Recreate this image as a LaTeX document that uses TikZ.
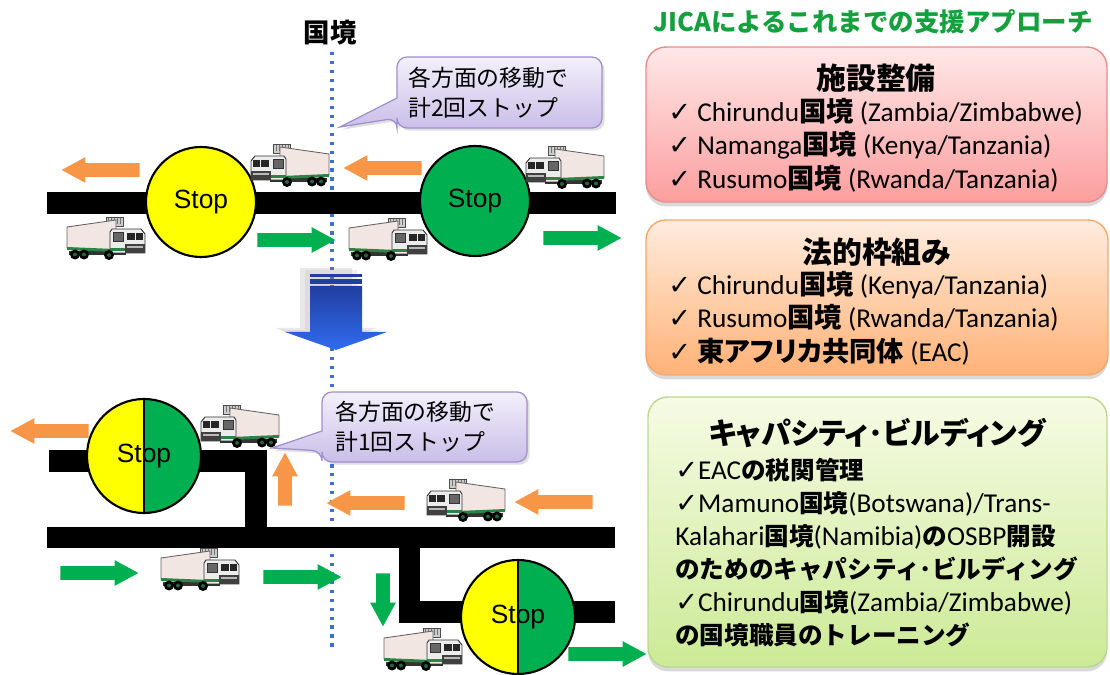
\documentclass[tikz,border=0pt]{standalone}
\usepackage{fontspec}
\setmainfont{Carlito}
\newfontfamily\cjk{Noto Sans CJK JP}
\newfontfamily\cjkp[RawFeature=+palt]{Noto Sans CJK JP}
\newfontfamily\symfont{DejaVu Sans}
\newfontfamily\arialfont{Liberation Sans}
\usetikzlibrary{shapes.arrows,shadows}

\definecolor{flowor}{RGB}{247,150,70}
\definecolor{flowgr}{RGB}{0,176,80}
\definecolor{stopyel}{RGB}{255,255,0}
\definecolor{stopgrn}{RGB}{0,176,80}
\definecolor{borderdots}{RGB}{60,115,200}
\definecolor{cargo}{RGB}{242,230,226}
\definecolor{cabwhite}{RGB}{236,236,236}
\definecolor{stripe}{RGB}{45,130,70}
\definecolor{calltop}{RGB}{243,240,251}
\definecolor{callbot}{RGB}{202,190,232}
\definecolor{calledge}{RGB}{160,142,205}
\definecolor{redtop}{RGB}{255,232,232}
\definecolor{redbot}{RGB}{252,158,158}
\definecolor{rededge}{RGB}{232,140,140}
\definecolor{ortop}{RGB}{255,236,222}
\definecolor{orbot}{RGB}{255,178,118}
\definecolor{oredge}{RGB}{246,168,108}
\definecolor{grtop}{RGB}{246,251,228}
\definecolor{grbot}{RGB}{204,234,150}
\definecolor{gredge}{RGB}{186,216,140}
\definecolor{bluetop}{RGB}{34,62,160}
\definecolor{bluebot}{RGB}{48,108,240}
\definecolor{titlegreen}{RGB}{20,160,60}

\newcommand\jp[1]{{\cjk\bfseries #1}}
\newcommand\jpp[1]{{\cjkp\bfseries #1}}
\newcommand\jps[1]{{\cjk\bfseries\fontsize{14}{18.8}\selectfont #1}}
\newcommand\chk{{\symfont\bfseries ✓}}

\tikzset{
  truckpic/.pic={
    % refrigeration unit above the cab
    \filldraw[fill=gray!40, draw=black!70, line width=0.4pt] (23,0) rectangle (40,9);
    \foreach \fx in {26,29,...,38} \draw[black!55, line width=0.3pt] (\fx,1.5) -- (\fx,7.5);
    % cargo box
    \filldraw[fill=cargo, draw=black!60, line width=0.5pt] (30,3) -- (79,10) -- (79,31) -- (30,34) -- cycle;
    % chassis and green stripe
    \fill[black!80] (20,34) rectangle (77,38);
    \fill[stripe] (20,32.5) -- (79,30) -- (79,33) -- (20,35.5) -- cycle;
    % cab
    \filldraw[fill=cabwhite, draw=black!80, line width=0.5pt] (1,17) -- (5,12) -- (34,12) -- (36,15) -- (36,36) -- (1,36) -- cycle;
    \fill[black!85] (3,16) rectangle (10,23);
    \fill[black!85] (11,16) rectangle (19,23);
    \filldraw[fill=black!60, draw=black!80, line width=0.3pt] (23,15) rectangle (33,24);
    \fill[black!75] (1,27) rectangle (21,36);
    \fill[gray!55] (3,29) rectangle (19,31);
    \fill[stripe] (21,31) rectangle (36,34);
    % wheels
    \foreach \wx/\wy in {37/38, 62/37.5, 71/37.5} {
      \fill[black] (\wx,\wy) circle (5);
      \fill[stripe!80!black] (\wx,\wy) circle (2);
    }
  }
}

\begin{document}
\begin{tikzpicture}[x=0.02cm,y=-0.02cm,
  flow/.style={single arrow, draw=none, inner xsep=0pt, inner ysep=6.5*0.02cm,
    single arrow head extend=6*0.02cm, single arrow tip angle=57,
    minimum height=78*0.02cm, anchor=tail},
  oflow/.style={flow, fill=flowor},
  gflow/.style={flow, fill=flowgr},
  stopsign/.style={circle, draw=black, line width=1.2pt, minimum size=110*0.02cm,
    inner sep=0pt, font=\arialfont\fontsize{15}{18}\selectfont},
  splitstop/.style={stopsign, minimum size=114*0.02cm,
    path picture={
      \fill[stopyel] (path picture bounding box.south west) rectangle (path picture bounding box.north);
      \fill[stopgrn] (path picture bounding box.south) rectangle (path picture bounding box.north east);
      \draw[line width=1.2pt] (path picture bounding box.north) -- (path picture bounding box.south);
    }},
  callout/.style={draw=calledge, line width=0.7pt, top color=calltop, bottom color=callbot,
    drop shadow={opacity=0.25, shadow xshift=1.5pt, shadow yshift=-1.5pt}},
  calltext/.style={font=\cjk\fontsize{13}{17}\selectfont, align=left, anchor=west, inner sep=0pt},
  panel/.style={rectangle, rounded corners=0.4cm, line width=0.8pt,
    drop shadow={opacity=0.3, shadow xshift=0pt, shadow yshift=-2.5pt}},
  paneltitle/.style={font=\cjk\bfseries\fontsize{17}{20}\selectfont, inner sep=0pt},
  bodybig/.style={font=\fontsize{15.5}{19}\selectfont, align=left, anchor=west, inner sep=0pt},
  bodysmall/.style={font=\fontsize{15.5}{18.8}\selectfont, align=left, anchor=west, inner sep=0pt},
]
\useasboundingbox (0,0) rectangle (1110,675);

% border line
\draw[borderdots, line width=2pt, dash pattern=on 1.9pt off 3.2pt] (332,52) -- (332,648);
\node[font=\cjk\bfseries\fontsize{15}{18}\selectfont, inner sep=0pt] (kokkyo) at (330,33) {国境};

% ---------- current situation: two stops ----------
\fill[black] (47,192) rectangle (616,214);
\node[stopsign, fill=stopyel] (stopA) at (201,202) {Stop};
\node[stopsign, fill=stopgrn] (stopB) at (475,201) {Stop};

\node[oflow, rotate=180] (o1) at (140,170) {};
\node[oflow, rotate=180] (o2) at (422,168) {};
\node[gflow] (g1) at (257,240) {};
\node[gflow] (g2) at (543,238) {};

\pic at (250,144) {truckpic};
\pic[xscale=-1] at (146,217) {truckpic};
\pic at (525,146) {truckpic};
\pic[xscale=-1] at (428,218) {truckpic};

\draw[callout, rounded corners=10*0.02cm] (397,98) -- (397,57) -- (602,57) -- (602,128) -- (397,128) -- (397,118)
  [sharp corners] -- (340,127) -- cycle;
\node[calltext] (call1) at (408,93) {各方面の移動で\\計2回ストップ};

% ---------- transition arrow ----------
\fill[gray, opacity=0.18] (300,268) -- (352,268) -- (352,328) -- (377,328) -- (326,346) -- (275,328) -- (300,328) -- cycle;
\fill[gray, opacity=0.12] (305,270) -- (357,270) -- (357,330) -- (382,330) -- (331,348) -- (280,330) -- (305,330) -- cycle;
\shade[top color=bluetop, bottom color=bluebot] (310,286) -- (362,286) -- (362,332) -- (387,332) -- (336,350) -- (285,332) -- (310,332) -- cycle;
\fill[bluetop] (310,274) rectangle (362,277);
\fill[bluetop] (310,279) rectangle (362,284);

% ---------- one-stop border post ----------
\fill[black] (49,450) rectangle (267,472);
\fill[black] (245,450) rectangle (267,548);
\fill[black] (47,527) rectangle (615,548);
\fill[black] (399,527) rectangle (420,623);
\fill[black] (399,601) rectangle (615,623);

\node[splitstop] (stopC) at (144,456) {Stop};
\node[splitstop] (stopD) at (518,617) {Stop};

\node[oflow, rotate=180] (o3) at (89,431) {};
\node[oflow, rotate=90, minimum height=53*0.02cm] (o4) at (285,506) {};
\node[oflow, rotate=180] (o5) at (405,503) {};
\node[oflow, rotate=180] (o6) at (593,502) {};
\node[gflow] (g3) at (60,573) {};
\node[gflow] (g4) at (263,577) {};
\node[gflow, rotate=-90, minimum height=53*0.02cm] (g5) at (383,573) {};
\node[gflow] (g6) at (568,654) {};

\pic at (200,405) {truckpic};
\pic at (426,479) {truckpic};
\pic[xscale=-1] at (240,548) {truckpic};
\pic[xscale=-1] at (463,628) {truckpic};

\draw[callout, rounded corners=10*0.02cm] (322,431) -- (322,392) -- (527,392) -- (527,462) -- (322,462) -- (322,451)
  [sharp corners] -- (272,448) -- cycle;
\node[calltext] (call2) at (335,427) {各方面の移動で\\計1回ストップ};

% ---------- support approaches ----------
\node[font=\cjk\bfseries\fontsize{14.5}{17}\selectfont, text=titlegreen, inner sep=0pt] (head) at (873,22)
  {JICAによるこれまでの支援アプローチ};

\node[panel, draw=rededge, top color=redtop, bottom color=redbot,
  minimum width=461*0.02cm, minimum height=155*0.02cm] (p1) at (876.5,124.5) {};
\node[paneltitle] (p1t) at (876,78) {施設整備};
\node[bodybig] (p1b) at (668,145) {\chk\ Chirundu\jp{国境} (Zambia/Zimbabwe)\\
  \chk\ Namanga\jp{国境} (Kenya/Tanzania)\\
  \chk\ Rusumo\jp{国境} (Rwanda/Tanzania)};

\node[panel, draw=oredge, top color=ortop, bottom color=orbot,
  minimum width=462*0.02cm, minimum height=155*0.02cm] (p2) at (877,297.5) {};
\node[paneltitle] (p2t) at (877,252) {法的枠組み};
\node[bodybig] (p2b) at (668,318) {\chk\ Chirundu\jp{国境} (Kenya/Tanzania)\\
  \chk\ Rusumo\jp{国境} (Rwanda/Tanzania)\\
  \chk\ \jpp{東アフリカ共同体} (EAC)};

\node[panel, draw=gredge, top color=grtop, bottom color=grbot,
  minimum width=459*0.02cm, minimum height=270*0.02cm] (p3) at (877.5,532) {};
\node[paneltitle, font=\cjkp\bfseries\fontsize{17}{20}\selectfont] (p3t) at (877,433) {キャパシティ･ビルディング};
\node[bodysmall] (p3b) at (675,553) {\chk EAC\jps{の税関管理}\\
  \chk Mamuno\jps{国境}(Botswana)/Trans-\\
  Kalahari\jps{国境}(Namibia)\jps{の}OSBP\jps{開設}\\
  \jps{のためのキャパシティ･ビルディング}\\
  \chk Chirundu\jps{国境}(Zambia/Zimbabwe)\\
  \jps{の国境職員のトレーニング}};
\end{tikzpicture}
\end{document}
